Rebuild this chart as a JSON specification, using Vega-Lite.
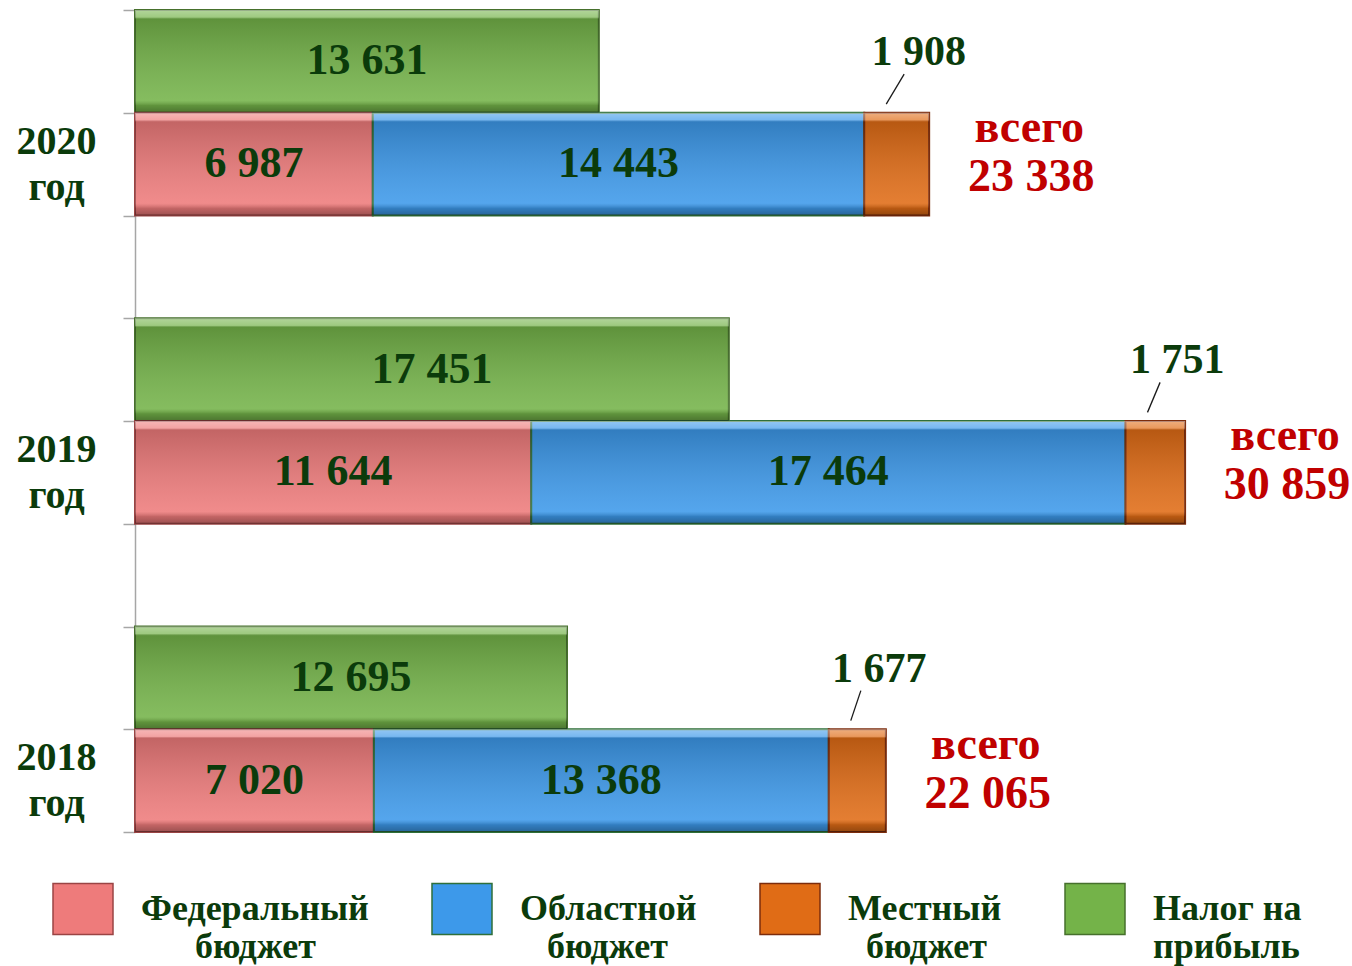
{
  "$schema": "https://vega.github.io/schema/vega-lite/v6.json",
  "width": 1191,
  "height": 822,
  "autosize": {"type": "none"},
  "padding": {"left": 135, "top": 10, "right": 26, "bottom": 134},
  "config": {
    "view": {"stroke": null},
    "locale": {"number": {"decimal": ",", "thousands": " ", "grouping": [3], "currency": ["", ""]}}
  },
  "datasets": {
    "budget": [
      {"row": "2020 прибыль", "series": "Налог на прибыль", "level": 0, "value": 13631},
      {"row": "2020", "series": "Федеральный бюджет", "level": 1, "value": 6987},
      {"row": "2020", "series": "Областной бюджет", "level": 2, "value": 14443},
      {"row": "2020", "series": "Местный бюджет", "level": 3, "value": 1908},
      {"row": "2019 прибыль", "series": "Налог на прибыль", "level": 0, "value": 17451},
      {"row": "2019", "series": "Федеральный бюджет", "level": 1, "value": 11644},
      {"row": "2019", "series": "Областной бюджет", "level": 2, "value": 17464},
      {"row": "2019", "series": "Местный бюджет", "level": 3, "value": 1751},
      {"row": "2018 прибыль", "series": "Налог на прибыль", "level": 0, "value": 12695},
      {"row": "2018", "series": "Федеральный бюджет", "level": 1, "value": 7020},
      {"row": "2018", "series": "Областной бюджет", "level": 2, "value": 13368},
      {"row": "2018", "series": "Местный бюджет", "level": 3, "value": 1677}
    ],
    "totals": [
      {"row": "2020", "total": 23338},
      {"row": "2019", "total": 30859},
      {"row": "2018", "total": 22065}
    ]
  },
  "data": {"name": "budget"},
  "encoding": {
    "y": {
      "field": "row",
      "type": "nominal",
      "scale": {
        "domain": ["2020 прибыль", "2020", "gap1", "2019 прибыль", "2019", "gap2", "2018 прибыль", "2018"],
        "paddingInner": 0,
        "paddingOuter": 0
      },
      "axis": {
        "title": null,
        "grid": false,
        "domainColor": "#A6A6A6",
        "domainWidth": 1.5,
        "tickColor": "#A6A6A6",
        "tickWidth": 1.5,
        "tickSize": 12,
        "tickBand": "extent",
        "labelExpr": "(datum.value == '2020' || datum.value == '2019' || datum.value == '2018') ? [datum.value, 'год'] : ''",
        "labelAlign": "center",
        "labelBaseline": "middle",
        "labelOffset": -23,
        "labelPadding": 67,
        "labelFont": "Liberation Serif",
        "labelFontSize": 40,
        "labelFontWeight": "bold",
        "labelColor": "#0B3B0B",
        "labelLineHeight": 46,
        "labelLimit": 0
      }
    }
  },
  "layer": [
    {
      "mark": {"type": "bar", "strokeWidth": 2},
      "encoding": {
        "x": {"field": "value", "type": "quantitative", "stack": "zero", "axis": null, "scale": {"domain": [0, 35000]}},
        "color": {
          "field": "series",
          "type": "nominal",
          "scale": {
            "domain": ["Федеральный бюджет", "Областной бюджет", "Местный бюджет", "Налог на прибыль"],
            "range": ["#EE7B7B", "#3D99EA", "#E06C16", "#74B349"]
          },
          "legend": {
            "title": null,
            "orient": "none",
            "legendX": -83,
            "legendY": 868,
            "direction": "horizontal",
            "columns": 4,
            "columnPadding": 60,
            "labelOffset": 27,
            "symbolType": "M-1,-0.85L1,-0.85L1,0.85L-1,0.85Z",
            "symbolSize": 3600,
            "symbolStrokeColor": "#555555",
            "symbolStrokeWidth": 1.5,
            "symbolOpacity": 1,
            "labelExpr": "datum.label == 'Налог на прибыль' ? ['Налог на', 'прибыль'] : datum.label == 'Федеральный бюджет' ? ['Федеральный', '\u200b\u00a0\u00a0\u00a0\u00a0\u00a0\u00a0бюджет'] : datum.label == 'Областной бюджет' ? ['Областной', '\u200b\u00a0\u00a0\u00a0бюджет'] : ['Местный', '\u200b\u00a0\u00a0бюджет']",
            "labelFont": "Liberation Serif",
            "labelFontSize": 36,
            "labelFontWeight": "bold",
            "labelColor": "#0B3B0B",
            "labelLimit": 0,
            "labelBaseline": "middle"
          }
        },
        "stroke": {
          "field": "series",
          "type": "nominal",
          "scale": {
            "domain": ["Федеральный бюджет", "Областной бюджет", "Местный бюджет", "Налог на прибыль"],
            "range": ["#9A4444", "#2F6F3A", "#7C2C0C", "#46702C"]
          },
          "legend": null
        },
        "order": {"field": "level", "type": "quantitative"}
      }
    },
    {
      "mark": {
        "type": "bar",
        "fill": {
          "gradient": "linear",
          "x1": 0, "y1": 0, "x2": 0, "y2": 1,
          "stops": [
            {"offset": 0, "color": "rgba(255,255,255,0.45)"},
            {"offset": 0.07, "color": "rgba(255,255,255,0.3)"},
            {"offset": 0.09, "color": "rgba(0,0,0,0.18)"},
            {"offset": 0.88, "color": "rgba(255,255,255,0.12)"},
            {"offset": 0.93, "color": "rgba(0,0,0,0.18)"},
            {"offset": 1, "color": "rgba(0,0,0,0.35)"}
          ]
        }
      },
      "encoding": {
        "x": {"field": "value", "type": "quantitative", "stack": "zero", "axis": null},
        "detail": {"field": "series", "type": "nominal"},
        "order": {"field": "level", "type": "quantitative"}
      }
    },
    {
      "transform": [
        {"stack": "value", "groupby": ["row"], "sort": [{"field": "level", "order": "ascending"}], "as": ["x0", "x1"]},
        {"filter": "datum.level == 3"}
      ],
      "mark": {"type": "rule", "color": "#1A1A1A", "strokeWidth": 1.3, "xOffset": -25, "x2Offset": 22, "yOffset": -90, "y2Offset": -60},
      "encoding": {
        "x": {"field": "x1", "type": "quantitative", "axis": null},
        "x2": {"field": "x0"},
        "y2": {"field": "row"}
      }
    },
    {
      "mark": {"type": "text", "font": "Liberation Serif", "fontSize": 44, "fontWeight": "bold", "color": "#0B3B0B", "align": "center", "baseline": "middle"},
      "encoding": {
        "x": {"field": "value", "type": "quantitative", "stack": "zero", "bandPosition": 0.5, "axis": null},
        "detail": {"field": "series", "type": "nominal"},
        "order": {"field": "level", "type": "quantitative"},
        "text": {"condition": {"test": "datum.level != 3", "field": "value", "type": "quantitative", "format": ",d"}, "value": ""}
      }
    },
    {
      "mark": {"type": "text", "font": "Liberation Serif", "fontSize": 42, "fontWeight": "bold", "color": "#0B3B0B", "align": "center", "baseline": "middle", "dx": 22, "dy": -112},
      "encoding": {
        "x": {"field": "value", "type": "quantitative", "stack": "zero", "bandPosition": 0.5, "axis": null},
        "detail": {"field": "series", "type": "nominal"},
        "order": {"field": "level", "type": "quantitative"},
        "text": {"condition": {"test": "datum.level == 3", "field": "value", "type": "quantitative", "format": ",d"}, "value": ""}
      }
    },
    {
      "data": {"name": "totals"},
      "mark": {"type": "text", "font": "Liberation Serif", "fontSize": 46, "fontWeight": "bold", "color": "#C00000", "align": "center", "baseline": "middle", "dx": 100, "dy": -36},
      "encoding": {
        "x": {"field": "total", "type": "quantitative", "axis": null},
        "text": {"value": "всего"}
      }
    },
    {
      "data": {"name": "totals"},
      "mark": {"type": "text", "font": "Liberation Serif", "fontSize": 46, "fontWeight": "bold", "color": "#C00000", "align": "center", "baseline": "middle", "dx": 102, "dy": 13},
      "encoding": {
        "x": {"field": "total", "type": "quantitative", "axis": null},
        "text": {"field": "total", "type": "quantitative", "format": ",d"}
      }
    }
  ]
}
